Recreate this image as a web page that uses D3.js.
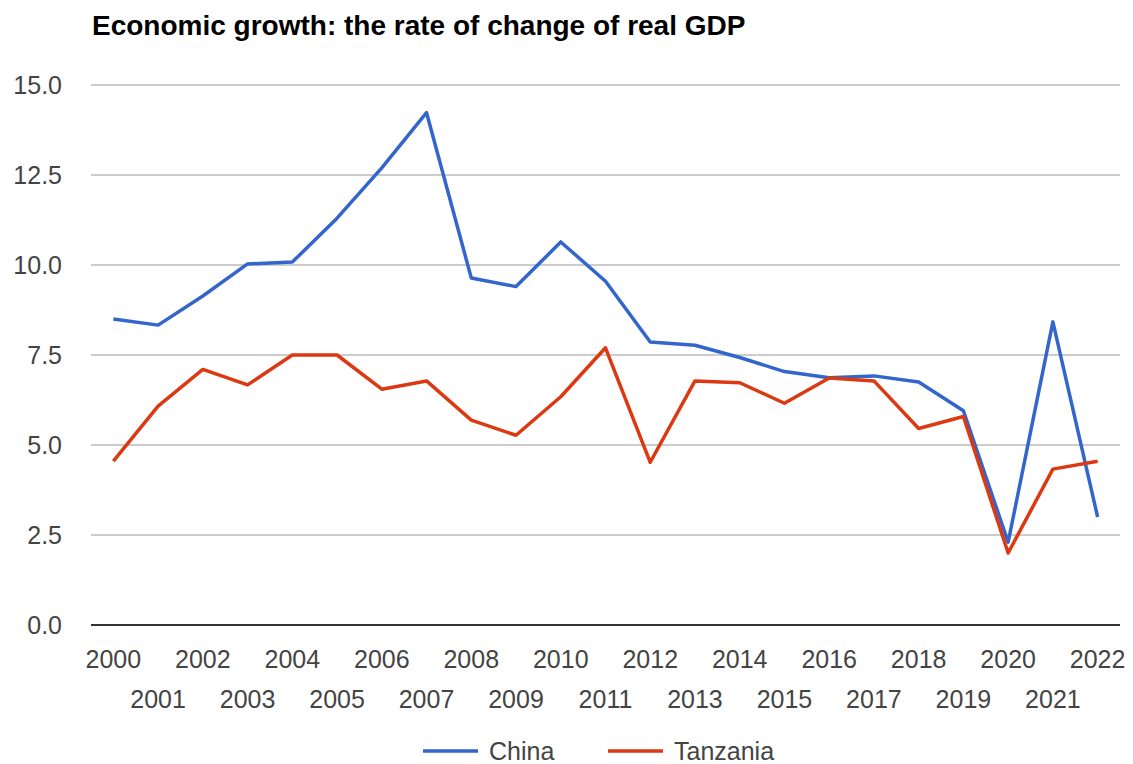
<!DOCTYPE html>
<html>
<head>
<meta charset="utf-8">
<script src="https://cdn.jsdelivr.net/npm/d3@7"></script>
<style>
    body { margin: 0; background: #fff; }
    svg { display: block; font-family: Arial, "Liberation Sans", sans-serif; }
</style>
</head>
<body>
<div id="chart"></div>
<script>
// years on the x axis
const years = d3.range(2000, 2023).map(String);

// real GDP growth, % per year
const china = [8.5, 8.33, 9.14, 10.03, 10.08, 11.3, 12.7, 14.23, 9.64, 9.4, 10.64, 9.55,
    7.86, 7.77, 7.43, 7.04, 6.87, 6.92, 6.75, 5.95, 2.3, 8.42, 3.0];
const tanzania = [4.55, 6.08, 7.1, 6.67, 7.5, 7.5, 6.55, 6.78, 5.69, 5.27, 6.34, 7.7,
    4.52, 6.78, 6.73, 6.16, 6.86, 6.78, 5.46, 5.79, 2.0, 4.33, 4.55];

const yTicks = [0, 2.5, 5, 7.5, 10, 12.5, 15];

const series = [
    { name: 'China', values: china, color: '#3366cc' },
    { name: 'Tanzania', values: tanzania, color: '#dc3912' },
];

function createLineChart() {
    const width = 1133;
    const height = 764;
    const plot = { left: 91, right: 1120, top: 85, bottom: 625 };

    const svg = d3
        .select('#chart')
        .append('svg')
        .attr('width', width)
        .attr('height', height);

    // title
    svg.append('text')
        .attr('x', 92)
        .attr('y', 35)
        .attr('font-size', 28)
        .attr('font-weight', 'bold')
        .attr('fill', '#000')
        .text('Economic growth: the rate of change of real GDP');

    const xScale = d3.scalePoint()
        .domain(years)
        .range([plot.left, plot.right])
        .padding(0.5);

    const yScale = d3.scaleLinear()
        .domain([0, 15])
        .range([plot.bottom, plot.top]);

    // gridlines
    svg.append('g')
        .attr('class', 'gridlines')
        .selectAll('line')
        .data(yTicks.filter(d => d !== 0))
        .join('line')
        .attr('x1', plot.left)
        .attr('x2', plot.right)
        .attr('y1', d => yScale(d))
        .attr('y2', d => yScale(d))
        .attr('stroke', '#cccccc')
        .attr('stroke-width', 2);

    // y labels
    svg.append('g')
        .selectAll('text')
        .data(yTicks)
        .join('text')
        .attr('x', 62)
        .attr('y', d => yScale(d))
        .attr('dy', '0.36em')
        .attr('text-anchor', 'end')
        .attr('font-size', 25)
        .attr('fill', '#444')
        .text(d => d.toFixed(1));

    // x labels, alternating on two rows
    svg.append('g')
        .selectAll('text')
        .data(years)
        .join('text')
        .attr('x', d => xScale(d))
        .attr('y', (d, i) => i % 2 === 0 ? 668 : 708)
        .attr('text-anchor', 'middle')
        .attr('font-size', 25)
        .attr('fill', '#444')
        .text(d => d);

    const line = d3.line()
        .x((d, i) => xScale(years[i]))
        .y(d => yScale(d));

    svg.append('g')
        .selectAll('path')
        .data(series)
        .join('path')
        .attr('d', d => line(d.values))
        .attr('fill', 'none')
        .attr('stroke', d => d.color)
        .attr('stroke-width', 3.5)
        .attr('stroke-linejoin', 'round');

    // baseline
    svg.append('line')
        .attr('x1', plot.left)
        .attr('x2', plot.right)
        .attr('y1', yScale(0))
        .attr('y2', yScale(0))
        .attr('stroke', '#333')
        .attr('stroke-width', 2);

    // legend
    const legend = svg.append('g')
        .selectAll('g')
        .data(series)
        .join('g')
        .attr('transform', (d, i) => `translate(${i === 0 ? 423 : 608}, 751)`);

    legend.append('line')
        .attr('x1', 0)
        .attr('x2', 55)
        .attr('stroke', d => d.color)
        .attr('stroke-width', 3.5);

    legend.append('text')
        .attr('x', 66)
        .attr('dy', '0.36em')
        .attr('font-size', 25)
        .attr('fill', '#444')
        .text(d => d.name);
}

createLineChart();
</script>
</body>
</html>
